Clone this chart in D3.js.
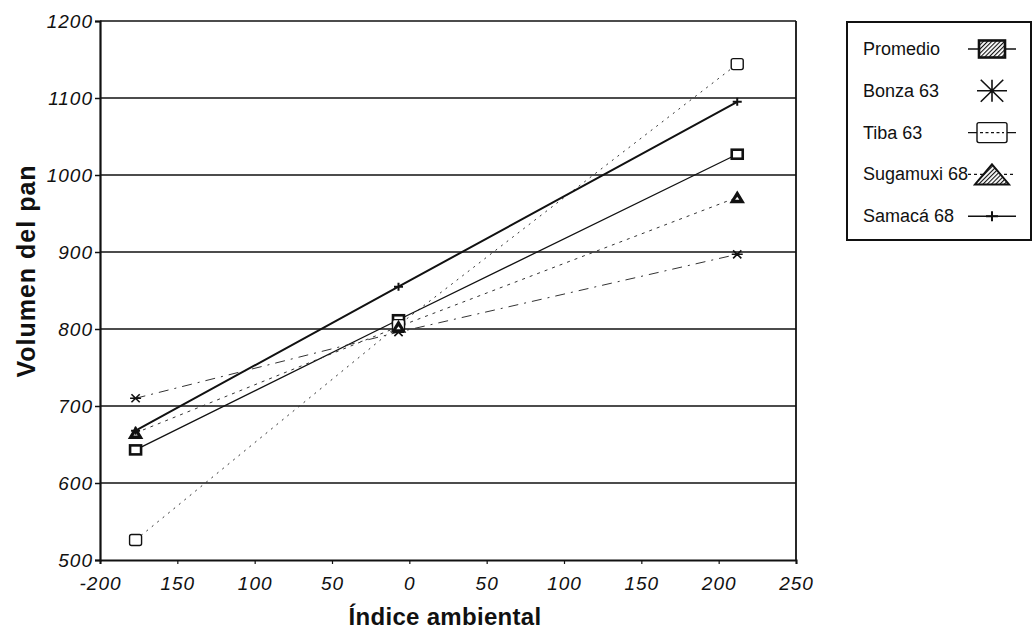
<!DOCTYPE html>
<html>
<head>
<meta charset="utf-8">
<script src="https://cdn.jsdelivr.net/npm/d3@7"></script>
<style>
body { margin: 0; background: #fff; }
text { font-family: "Liberation Sans", Arial, sans-serif; fill: #111; }
</style>
</head>
<body>
<div id="chart"></div>
<script>
// environmental index of the three sites
var indices = [-177, -7, 212];

var seriesNames = ["Promedio", "Bonza 63", "Tiba 63", "Sugamuxi 68", "Samacá 68"];
var promedio = [643, 812, 1027];
var bonza = [710, 796, 897];
var tiba = [526, 805, 1144];
var sugamuxi = [665, 803, 971];
var samaca = [668, 855, 1095];

var xTicks = [-200, -150, -100, -50, 0, 50, 100, 150, 200, 250];
var xTickLabels = ["-200", "150", "100", "50", "0", "50", "100", "150", "200", "250"];
var yTicks = [500, 600, 700, 800, 900, 1000, 1100, 1200];

var margin = { top: 21, right: 237, bottom: 73, left: 100 },
    width = 1033 - margin.left - margin.right,
    height = 633 - margin.top - margin.bottom;

var x = d3.scaleLinear().domain([-200, 250]).range([0, width]);
var y = d3.scaleLinear().domain([500, 1200]).range([height, 0]);

var svg = d3.select("#chart").append("svg")
    .attr("width", 1033)
    .attr("height", 633);

var defs = svg.append("defs");
var hatch = defs.append("pattern")
    .attr("id", "hatch")
    .attr("width", 3).attr("height", 3)
    .attr("patternUnits", "userSpaceOnUse")
    .attr("patternTransform", "rotate(45)");
hatch.append("rect").attr("width", 3).attr("height", 3).attr("fill", "#fff");
hatch.append("line").attr("x1", 0).attr("y1", 0).attr("x2", 0).attr("y2", 3)
    .attr("stroke", "#111").attr("stroke-width", 2.2);

var g = svg.append("g")
    .attr("transform", "translate(" + margin.left + "," + margin.top + ")");

// horizontal grid lines
g.selectAll(".grid")
    .data(yTicks.filter(function(d) { return d > 500; }))
    .enter().append("line")
    .attr("class", "grid")
    .attr("x1", 0).attr("x2", width)
    .attr("y1", function(d) { return y(d); })
    .attr("y2", function(d) { return y(d); })
    .attr("stroke", "#111")
    .attr("stroke-width", 1.6);

// right border
g.append("line")
    .attr("x1", width).attr("x2", width)
    .attr("y1", 0).attr("y2", height)
    .attr("stroke", "#111").attr("stroke-width", 1.8);

// y axis
var yAxis = g.append("g")
    .call(d3.axisLeft(y).tickValues(yTicks).tickSize(5).tickPadding(2)
        .tickFormat(d3.format("d")));
yAxis.select(".domain").attr("stroke", "#111").attr("stroke-width", 2.2);
yAxis.selectAll(".tick line").attr("stroke", "#111").attr("stroke-width", 1.5);
yAxis.selectAll("text")
    .attr("font-size", 19)
    .attr("font-style", "italic")
    .attr("letter-spacing", 1)
    .attr("fill", "#111");

// x axis
var xAxis = g.append("g")
    .attr("transform", "translate(0," + height + ")")
    .call(d3.axisBottom(x).tickValues(xTicks).tickSize(4).tickPadding(13)
        .tickFormat(function(d, i) { return xTickLabels[i]; }));
xAxis.select(".domain").attr("stroke", "#111").attr("stroke-width", 2);
xAxis.selectAll(".tick line").attr("stroke", "#111").attr("stroke-width", 1.2);
xAxis.selectAll("text")
    .attr("font-size", 19)
    .attr("font-style", "italic")
    .attr("letter-spacing", 1)
    .attr("fill", "#111");

// axis titles
svg.append("text")
    .attr("transform", "translate(35,271) rotate(-90)")
    .attr("text-anchor", "middle")
    .attr("font-size", 25)
    .attr("font-weight", "bold")
    .attr("letter-spacing", 1)
    .text("Volumen del pan");

svg.append("text")
    .attr("x", 445)
    .attr("y", 625)
    .attr("text-anchor", "middle")
    .attr("font-size", 24)
    .attr("font-weight", "bold")
    .attr("letter-spacing", 0.3)
    .text("Índice ambiental");

var series = [
    { name: seriesNames[0], values: promedio, marker: "boldsquare", dash: null, sw: 1.3, col: "#111" },
    { name: seriesNames[1], values: bonza, marker: "star", dash: "10,6,2,6", sw: 1, col: "#333" },
    { name: seriesNames[2], values: tiba, marker: "square", dash: "2,5", sw: 1, col: "#333" },
    { name: seriesNames[3], values: sugamuxi, marker: "triangle", dash: "3,5", sw: 1, col: "#333" },
    { name: seriesNames[4], values: samaca, marker: "plus", dash: null, sw: 2, col: "#111" }
];

var line = d3.line()
    .x(function(d, i) { return x(indices[i]); })
    .y(function(d) { return y(d); });

g.selectAll(".series")
    .data(series)
    .enter().append("path")
    .attr("class", "series")
    .attr("d", function(d) { return line(d.values); })
    .attr("fill", "none")
    .attr("stroke", function(d) { return d.col; })
    .attr("stroke-width", function(d) { return d.sw; })
    .attr("stroke-dasharray", function(d) { return d.dash; });

function drawMarker(sel, type, w, hgt, legend) {
    var h = w / 2, v = hgt / 2;
    if (type === "boldsquare") {
        sel.append("rect")
            .attr("x", -h).attr("y", -v).attr("width", w).attr("height", hgt)
            .attr("fill", legend ? "url(#hatch)" : "#fff")
            .attr("stroke", "#111").attr("stroke-width", 2.6);
    } else if (type === "square") {
        sel.append("rect")
            .attr("x", -h).attr("y", -v).attr("width", w).attr("height", hgt)
            .attr("rx", 2)
            .attr("fill", "#fff")
            .attr("stroke", "#111").attr("stroke-width", 1.4);
        if (legend) {
            sel.append("line")
                .attr("x1", -h + 3).attr("x2", h - 3).attr("y1", 0).attr("y2", 0)
                .attr("stroke", "#111").attr("stroke-width", 1.2).attr("stroke-dasharray", "3,2.5");
        }
    } else if (type === "triangle") {
        sel.append("path")
            .attr("d", "M0," + (-v) + "L" + h + "," + v + "L" + (-h) + "," + v + "Z")
            .attr("fill", legend ? "url(#hatch)" : "#111")
            .attr("stroke", "#111").attr("stroke-width", 2);
        if (!legend) {
            sel.append("path")
                .attr("d", "M0," + (-v * 0.1) + "L" + (h * 0.35) + "," + (v * 0.5) + "L" + (-h * 0.35) + "," + (v * 0.5) + "Z")
                .attr("fill", "#fff");
        }
    } else if (type === "star") {
        var p = "M" + (-h) + ",0L" + h + ",0" +
            "M" + (-h * 0.75) + "," + (-v) + "L" + (h * 0.75) + "," + v +
            "M" + (-h * 0.75) + "," + v + "L" + (h * 0.75) + "," + (-v);
        if (legend) p += "M0," + (-v) + "L0," + v;
        sel.append("path").attr("d", p)
            .attr("fill", "none").attr("stroke", "#111").attr("stroke-width", 1.6);
    } else if (type === "plus") {
        sel.append("path")
            .attr("d", "M" + (-h) + ",0L" + h + ",0M0," + (-v) + "L0," + v)
            .attr("fill", "none").attr("stroke", "#111").attr("stroke-width", 2);
    }
}

var markerSize = { boldsquare: [11, 9], square: [12, 11], triangle: [12, 10], star: [11, 8], plus: [9, 8] };
var legendSize = { boldsquare: [26, 17], square: [30, 20], triangle: [34, 20], star: [30, 22], plus: [12, 10] };

series.forEach(function(sr) {
    sr.values.forEach(function(v, i) {
        var m = g.append("g")
            .attr("transform", "translate(" + x(indices[i]) + "," + y(v) + ")");
        drawMarker(m, sr.marker, markerSize[sr.marker][0], markerSize[sr.marker][1], false);
    });
});

// legend
var legend = svg.append("g").attr("transform", "translate(847,22)");
legend.append("rect")
    .attr("x", 0).attr("y", 0)
    .attr("width", 184).attr("height", 218)
    .attr("fill", "#fff")
    .attr("stroke", "#111").attr("stroke-width", 2);

var items = legend.selectAll(".item")
    .data(series)
    .enter().append("g")
    .attr("class", "item")
    .attr("transform", function(d, i) { return "translate(0," + (33 + i * 41.8) + ")"; });

items.append("text")
    .attr("x", 16)
    .attr("font-size", 18)
    .text(function(d) { return d.name; });

items.each(function(d) {
    var it = d3.select(this);
    var cx = 145, cy = -6;
    if (d.marker !== "star") {
        it.append("line")
            .attr("x1", cx - 24).attr("x2", cx + 24)
            .attr("y1", cy).attr("y2", cy)
            .attr("stroke", "#111")
            .attr("stroke-width", d.marker === "plus" ? 1.6 : 1.3)
            .attr("stroke-dasharray", d.marker === "triangle" ? "3,3" : null);
    }
    var m = it.append("g").attr("transform", "translate(" + cx + "," + cy + ")");
    drawMarker(m, d.marker, legendSize[d.marker][0], legendSize[d.marker][1], true);
});
</script>
</body>
</html>
